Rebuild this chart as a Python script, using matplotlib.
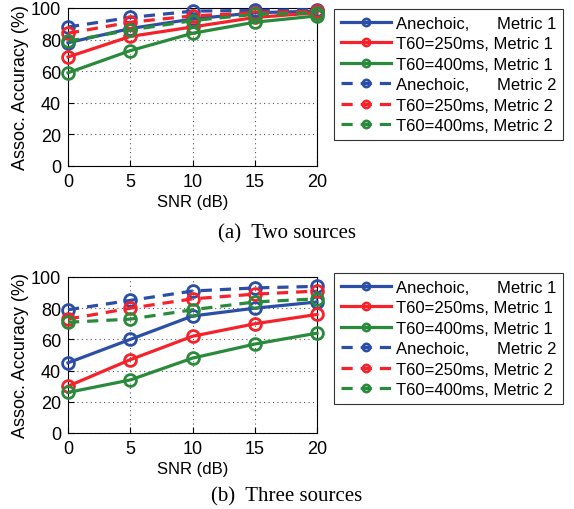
import matplotlib
matplotlib.use("Agg")
import matplotlib.pyplot as plt

# SNR values (dB)
snr = [0, 5, 10, 15, 20]

# (a) Two sources
two_anechoic_m1 = [78, 87, 93, 97, 98]
two_t250_m1 = [69, 82, 88, 94, 97]
two_t400_m1 = [59, 73, 84, 91, 95]
two_anechoic_m2 = [88, 94, 98, 98.5, 99]
two_t250_m2 = [84, 91, 95, 97, 98]
two_t400_m2 = [79, 86, 92, 96, 97]

# (b) Three sources
three_anechoic_m1 = [45, 60, 75, 80, 84]
three_t250_m1 = [30, 47, 62, 70, 76]
three_t400_m1 = [26, 34, 48, 57, 64]
three_anechoic_m2 = [79, 85, 91, 93, 94]
three_t250_m2 = [73, 80, 86, 89, 91]
three_t400_m2 = [71, 73, 79, 84, 86]

labels = ["Anechoic,      Metric 1", "T60=250ms, Metric 1", "T60=400ms, Metric 1",
          "Anechoic,      Metric 2", "T60=250ms, Metric 2", "T60=400ms, Metric 2"]
colors = ["#2b4ea6", "#f5222b", "#2a8a3c"]

plt.rcParams["font.family"] = ["Liberation Sans", "DejaVu Sans"]

fig = plt.figure(figsize=(5.74, 5.10), dpi=100)
W, H = 574, 510


def make_panel(rect, series, caption, cap_y, leg_top):
    l, t, r, b = rect
    ax = fig.add_axes([l / W, 1 - b / H, (r - l) / W, (b - t) / H])
    handles = []
    for i, ys in enumerate(series):
        ls = "-" if i < 3 else (0, (3.5, 2.5))
        h, = ax.plot(snr, ys, color=colors[i % 3], linestyle=ls, linewidth=2.3,
                     marker="o", markersize=8.5, markerfacecolor="none",
                     markeredgewidth=2.0, clip_on=False, zorder=3)
        handles.append(h)
    ax.set_xlim(0, 20)
    ax.set_ylim(0, 100)
    ax.set_xticks(snr)
    ax.set_yticks(range(0, 101, 20))
    ax.grid(True, linestyle=(0, (1, 3)), color="#555555", linewidth=0.8)
    ax.tick_params(labelsize=13, direction="in", length=4, pad=5)
    ax.set_xlabel("SNR (dB)", fontsize=12, labelpad=3)
    ax.set_ylabel("Assoc. Accuracy (%)", fontsize=13, labelpad=1)
    for s in ax.spines.values():
        s.set_linewidth(0.8)
    leg = fig.legend(handles, labels, loc="upper left",
                     bbox_to_anchor=(334 / W, 1 - leg_top / H),
                     fontsize=12, frameon=True, fancybox=False, edgecolor="black",
                     handlelength=3.0, handletextpad=0.3, labelspacing=0.33,
                     borderpad=0.4, borderaxespad=0, markerscale=0.6)
    leg.get_frame().set_linewidth(0.8)
    fig.text(0.5, 1 - cap_y / H, caption, ha="center", va="center",
             fontsize=15, family="Liberation Serif")
    return ax


make_panel((68, 9, 317, 167),
           [two_anechoic_m1, two_t250_m1, two_t400_m1,
            two_anechoic_m2, two_t250_m2, two_t400_m2],
           "(a)  Two sources", 234, 10)
make_panel((68, 278, 317, 434),
           [three_anechoic_m1, three_t250_m1, three_t400_m1,
            three_anechoic_m2, three_t250_m2, three_t400_m2],
           "(b)  Three sources", 497, 274)

fig.savefig("out.png", dpi=100)
